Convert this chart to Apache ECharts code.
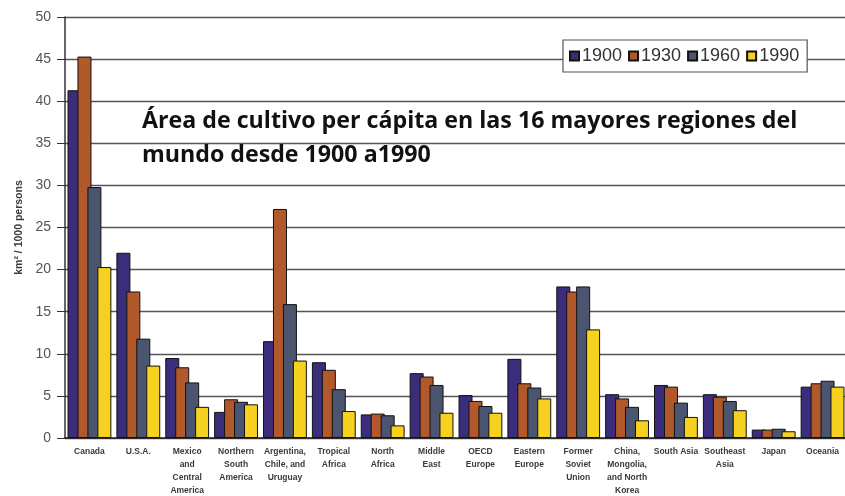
<!DOCTYPE html>
<html>
<head>
<meta charset="utf-8">
<script src="https://cdn.jsdelivr.net/npm/echarts@6/dist/echarts.min.js"></script>
<style>
  html, body { margin: 0; padding: 0; background: #ffffff; }
  #chart { width: 845px; height: 496px; }
</style>
</head>
<body>
<div id="chart"></div>
<script>
// Regions (x-axis categories)
const regions = [
  'Canada', 'U.S.A.', 'Mexico\nand\nCentral\nAmerica', 'Northern\nSouth\nAmerica',
  'Argentina,\nChile, and\nUruguay', 'Tropical\nAfrica', 'North\nAfrica', 'Middle\nEast',
  'OECD\nEurope', 'Eastern\nEurope', 'Former\nSoviet\nUnion', 'China,\nMongolia,\nand North\nKorea',
  'South Asia', 'Southeast\nAsia', 'Japan', 'Oceania'
];

// Cultivated area per capita, km² / 1000 persons
const v1900 = [41.3, 22.0, 9.5, 3.1, 11.5, 9.0, 2.8, 7.7, 5.1, 9.4, 18.0, 5.2, 6.3, 5.2, 1.0, 6.1];
const v1930 = [45.3, 17.4, 8.4, 4.6, 27.2, 8.1, 2.9, 7.3, 4.4, 6.5, 17.4, 4.7, 6.1, 4.9, 1.0, 6.5];
const v1960 = [29.8, 11.8, 6.6, 4.3, 15.9, 5.8, 2.7, 6.3, 3.8, 6.0, 18.0, 3.7, 4.2, 4.4, 1.1, 6.8];
const v1990 = [20.3, 8.6, 3.7, 4.0, 9.2, 3.2, 1.5, 3.0, 3.0, 4.7, 12.9, 2.1, 2.5, 3.3, 0.8, 6.1];

const years = ['1900', '1930', '1960', '1990'];
const yTicks = [0, 5, 10, 15, 20, 25, 30, 35, 40, 45, 50];

const palette = ['#3b2c7c', '#b1592b', '#4b556f', '#f6d11f'];
const seriesValues = [v1900, v1930, v1960, v1990];

const chart = echarts.init(document.getElementById('chart'), null, { renderer: 'canvas' });

chart.setOption({
  backgroundColor: '#ffffff',
  animation: false,
  title: {
    text: 'Área de cultivo per cápita en las 16 mayores regiones del\nmundo desde 1900 a1990',
    left: 137,
    top: 99,
    textStyle: {
      fontFamily: 'Open Sans',
      fontWeight: 700,
      fontSize: 23.2,
      lineHeight: 34,
      color: '#111111'
    }
  },
  legend: {
    data: years,
    left: 563,
    top: 40,
    padding: [7, 8, 7, 6],
    itemWidth: 9,
    itemHeight: 9,
    itemGap: 6,
    borderColor: '#555555',
    borderWidth: 1.2,
    backgroundColor: '#ffffff',
    icon: 'rect',
    textStyle: {
      fontFamily: 'Arial, Liberation Sans',
      fontSize: 18,
      color: '#333333',
      padding: [0, 0, 0, -2]
    }
  },
  grid: {
    left: 65,
    top: 17,
    bottom: 58,
    width: 782,
    containLabel: false,
    outerBoundsMode: 'none'
  },
  xAxis: {
    type: 'category',
    data: regions,
    axisLine: { lineStyle: { color: '#222222', width: 1.5 } },
    axisTick: { alignWithLabel: false, length: 4, lineStyle: { color: '#222222' } },
    axisLabel: {
      interval: 0,
      margin: 7,
      fontFamily: 'Arial, Liberation Sans',
      fontWeight: 'bold',
      fontSize: 8.5,
      lineHeight: 13,
      color: '#3a3a3a',
      align: 'center'
    }
  },
  yAxis: {
    type: 'value',
    min: yTicks[0],
    max: yTicks[yTicks.length - 1],
    interval: 5,
    name: 'km² / 1000 persons',
    nameLocation: 'middle',
    nameGap: 40,
    nameTextStyle: {
      fontFamily: 'Arial, Liberation Sans',
      fontWeight: 'bold',
      fontSize: 10.5,
      color: '#3a3a3a'
    },
    axisLine: { show: true, lineStyle: { color: '#333333', width: 1.5 } },
    axisTick: { show: true, length: 8, lineStyle: { color: '#333333' } },
    axisLabel: {
      margin: 14,
      fontFamily: 'Arial, Liberation Sans',
      fontSize: 14,
      color: '#555555'
    },
    splitLine: { lineStyle: { color: '#555555', width: 1.3 } }
  },
  series: years.map((y, i) => ({
    name: y,
    type: 'bar',
    data: seriesValues[i],
    barWidth: 14,
    barGap: '-29%',
    itemStyle: {
      color: palette[i],
      borderColor: '#111111',
      borderWidth: 1
    }
  }))
});
</script>
</body>
</html>
